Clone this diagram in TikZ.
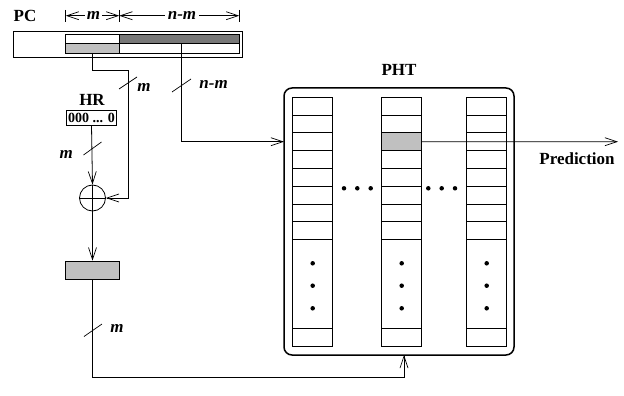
\documentclass[tikz,border=0pt]{standalone}
\usepackage{fontspec}
\setmainfont{Liberation Serif}
\usetikzlibrary{arrows.meta}
\definecolor{dg}{HTML}{787878}
\definecolor{lg}{HTML}{C0C0C0}
\begin{document}
\begin{tikzpicture}[x=1pt,y=-1pt,line width=0.8pt,
  arr/.style={-{Straight Barb[length=12pt,width=8pt,line width=0.7pt]}},
  dimarr/.style={{Straight Barb[length=12pt,width=8pt,line width=0.7pt]}-{Straight Barb[length=12pt,width=8pt,line width=0.7pt]}},
  lbl/.style={font=\fontsize{17}{17}\selectfont\bfseries,inner sep=0pt},
  ml/.style={font=\fontsize{17}{17}\selectfont\bfseries\itshape,inner sep=0pt},
  cell/.style={draw,line width=0.7pt},
  pcc/.style={draw,line width=0.7pt,inner sep=0pt,outer sep=0pt,anchor=north west},
  dot/.style={circle,fill,inner sep=0pt,minimum size=4.5pt},
  slash/.style={line width=0.7pt}]
\useasboundingbox (0,0) rectangle (624,396);

% ---- PC register ----
\node[lbl,anchor=base west] (pclbl) at (13.3,21.7) {PC};
\node[draw,line width=0.8pt,minimum width=228.7pt,minimum height=26pt,inner sep=0pt,anchor=north west] (pc) at (13.3,31) {};
\node[pcc,minimum width=53.6pt,minimum height=9.7pt] (pcTL) at (65.7,34) {};
\node[pcc,fill=dg,minimum width=120pt,minimum height=9.7pt] (pcTR) at (119.3,34) {};
\node[pcc,fill=lg,minimum width=53.6pt,minimum height=9.3pt] (pcBL) at (65.7,43.7) {};
\node[pcc,minimum width=120pt,minimum height=9.3pt] (pcBR) at (119.3,43.7) {};

% dimension marks
\coordinate (t1) at (65.7,15.7);
\coordinate (t2) at (119.3,15.7);
\coordinate (t3) at (239.3,15.7);
\draw[line width=0.7pt] (65.7,10) -- (65.7,22) (119.3,10) -- (119.3,22) (239.3,10) -- (239.3,22);
\draw[dimarr] (t1) -- (t2);
\draw[dimarr] (t2) -- (t3);
\node[ml,fill=white,inner xsep=2pt,anchor=base] (dm) at (93.5,20) {m};
\node[ml,fill=white,inner xsep=3pt,anchor=base] (dnm) at (182,20) {n-m};

% ---- HR ----
\node[lbl,anchor=base] (hrlbl) at (92,106) {HR};
\node[draw,line width=0.8pt,minimum width=50pt,minimum height=14.3pt,inner sep=0pt,font=\fontsize{14}{14}\selectfont\bfseries] (hr) at (91.5,118) {000 ... 0};

% XOR
\node[circle,draw,line width=0.8pt,minimum size=26pt,inner sep=0pt] (xor) at (92.5,198) {};
\draw (xor.west) -- (xor.east);
\draw (xor.north) -- (xor.south);

% grey register
\node[draw,fill=lg,line width=0.8pt,minimum width=53.6pt,minimum height=18.3pt,inner sep=0pt] (gbox) at (92.5,270.2) {};

% ---- PHT ----
\node[lbl,anchor=base] (phtlbl) at (399,75) {PHT};
\node[draw,line width=1.5pt,rounded corners=8pt,minimum width=230pt,minimum height=267pt,inner sep=0pt,outer sep=0pt,anchor=north west] (pht) at (284,88) {};
\foreach \cx in {292.7,381.7,466.7}{
  \foreach \i in {0,...,7}{
    \draw[cell] (\cx,{97.3+17.77*\i}) rectangle ++(40,17.77);
  }
  \draw[cell] (\cx,239.5) rectangle (\cx+40,328.3);
  \draw[cell] (\cx,328.3) rectangle (\cx+40,346);
  \foreach \dy in {263.3,285.7,308.3}{
    \node[dot] at (\cx+20,\dy) {};
  }
}
\node[cell,fill=lg,minimum width=40pt,minimum height=17.77pt,inner sep=0pt,outer sep=0pt,anchor=north west] (gcell) at (381.7,132.84) {};
\foreach \dx in {344,357.3,370.7,428.3,441.7,455}{
  \node[dot] at (\dx,188.3) {};
}

% ---- connectors ----
\coordinate (j1) at (128,70);
\coordinate (d0) at (181.7,43.7);
\coordinate (j2) at (404,377);
\coordinate (pred) at (618,141.7);
\draw[arr] (pcBL.south) |- (j1) |- (xor.east);
\draw[arr] (d0) |- (gcell -| pht.west);
\draw[arr] (hr.south) -- (xor.north);
\draw[arr] (xor.south) -- (gbox.north);
\draw[arr] (gbox.south) |- (j2) -- (j2 |- pht.south);
\draw[arr] (gcell.east) -- (pred);
\node[lbl,anchor=base east] (predlbl) at (615,164) {Prediction};

% slashes and bus widths
\draw[slash] (119,89) -- (137,77);
\node[ml,anchor=base west] (m1) at (137,91.7) {m};
\draw[slash] (172,92) -- (191,79);
\node[ml,anchor=base west] (m2) at (199,88.3) {n-m};
\draw[slash] (83.5,155) -- (101.5,142);
\node[ml,anchor=base east] (m3) at (73.3,158.3) {m};
\draw[slash] (84,336.5) -- (102,324);
\node[ml,anchor=base west] (m4) at (110,332.3) {m};
\end{tikzpicture}
\end{document}
